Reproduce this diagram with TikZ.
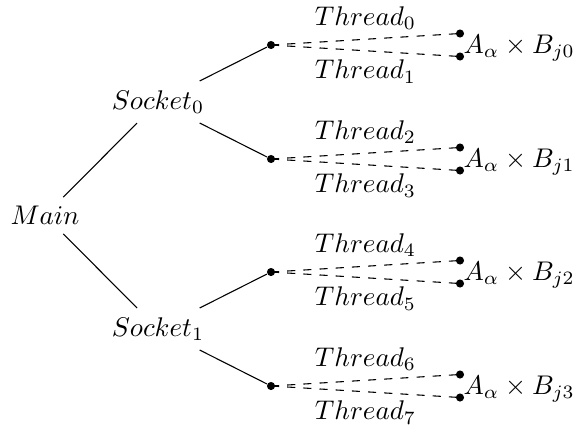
\documentclass[tikz,border=0pt]{standalone}
\begin{document}
\begin{tikzpicture}[x=1pt/2.7,y=-1pt/2.7,
  lbl/.style={inner sep=0pt},
  dotn/.style={circle,fill=black,inner sep=0pt,minimum size=3pt},
  link/.style={line width=0.4pt},
  thr/.style={dashed,line width=0.4pt},
  tlab/.style={inner sep=3.3pt}]
\useasboundingbox (0,0) rectangle (574,430);
\node[lbl] (main) at (45,215.5) {$Main$};
\node[lbl] (s0) at (158,102) {$Socket_0$};
\node[lbl] (s1) at (158,329) {$Socket_1$};
\draw[link,shorten <=9.6pt,shorten >=11pt] (main.center) -- (s0.center);
\draw[link,shorten <=9.6pt,shorten >=11pt] (main.center) -- (s1.center);
% thread groups
\foreach \k/\y/\sk/\a/\b in {0/45/s0/0/1,1/159/s0/2/3,2/272/s1/4/5,3/386/s1/6/7}{
  \node[dotn] (d\k) at (271,\y) {};
  \node[dotn] (u\k) at (460,\y-11.5) {};
  \node[dotn] (l\k) at (460,\y+11.5) {};
  \draw[link,shorten <=17.3pt] (\sk.center) -- (d\k);
  \draw[thr] (d\k.center) -- (u\k.center) node[midway,above,tlab] {$Thread_{\a}$};
  \draw[thr] (d\k.center) -- (l\k.center) node[midway,below,tlab] {$Thread_{\b}$};
  \node[lbl,anchor=base west] (p\k) at (463,\y+8) {$A_\alpha \times B_{j\k}$};
}
\end{tikzpicture}
\end{document}
